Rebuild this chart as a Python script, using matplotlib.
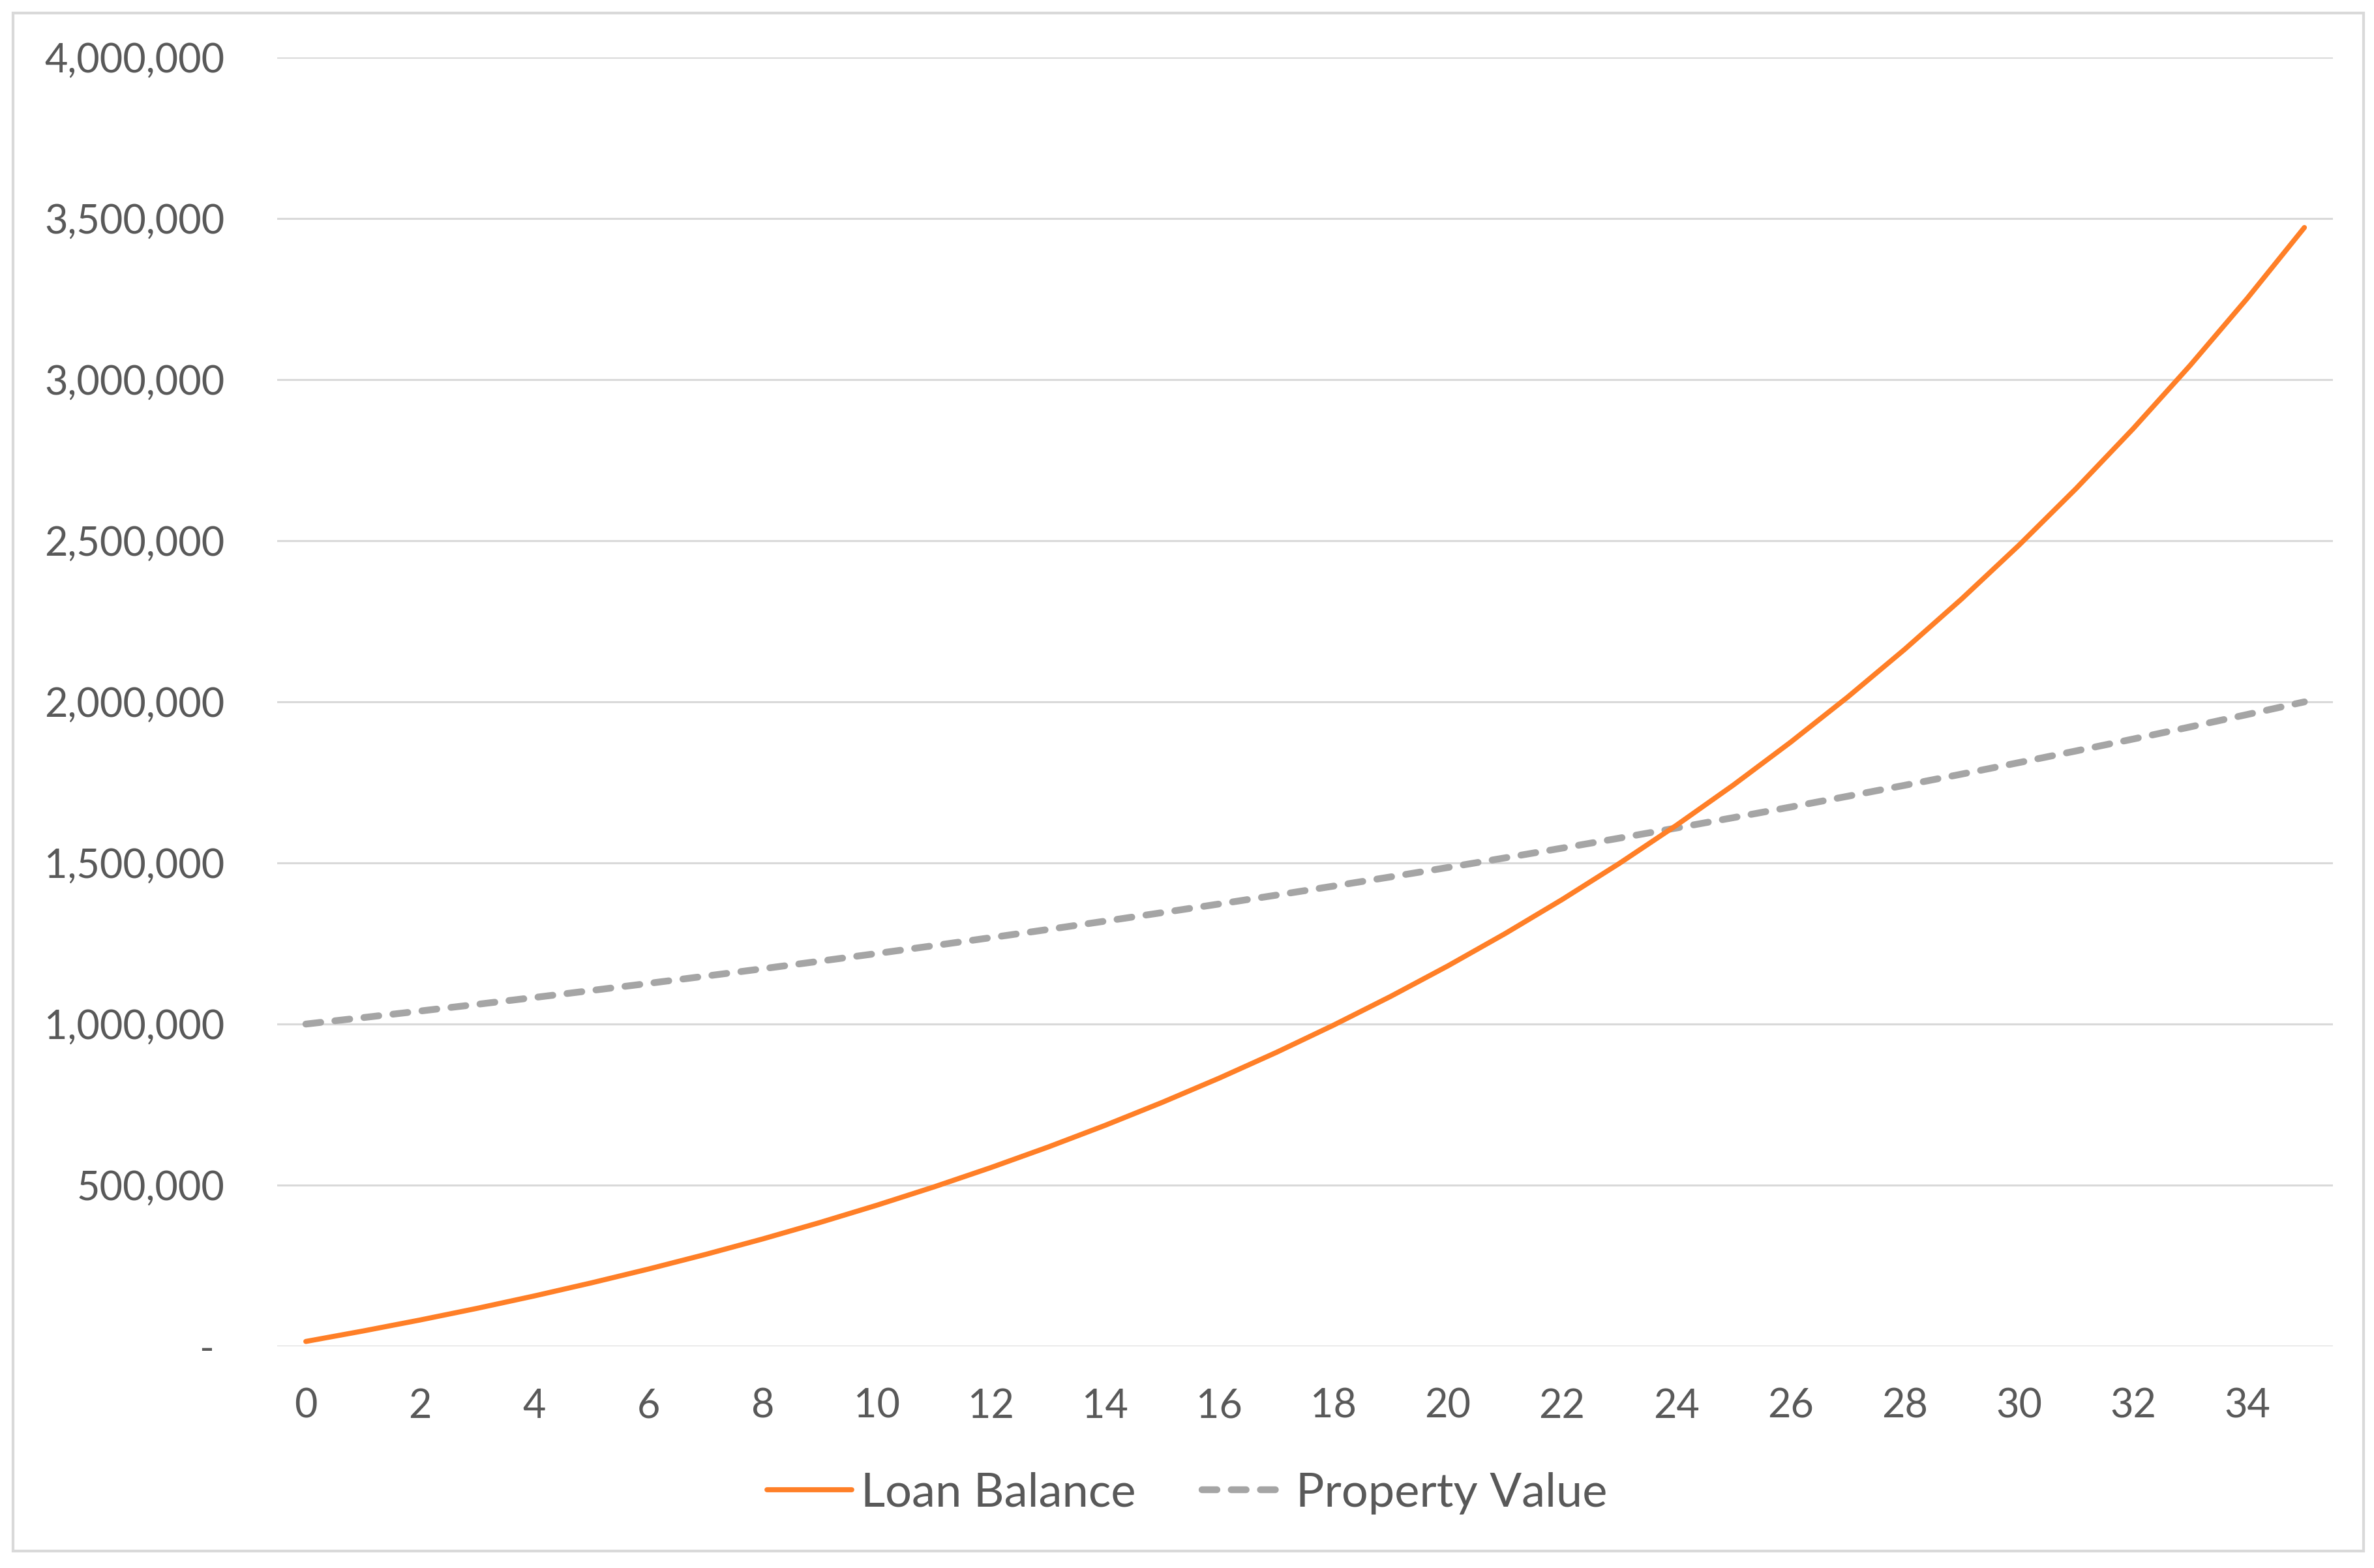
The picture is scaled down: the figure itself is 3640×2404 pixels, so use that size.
import matplotlib
matplotlib.use("Agg")
import matplotlib.pyplot as plt
from matplotlib.patches import Rectangle
from matplotlib.ticker import FuncFormatter, MultipleLocator

years = list(range(0, 36))
loan_balance = [
    15000, 47400, 81600, 117800, 156200, 196800, 239700, 285100, 333100, 384000,
    437800, 494600, 554800, 618400, 685800, 757100, 832500, 912300, 996800, 1086000,
    1180500, 1280500, 1386300, 1498200, 1616600, 1741800, 1874400, 2014500, 2162900, 2319700,
    2485800, 2661500, 2847400, 3044200, 3252200, 3472000,
]
property_value = [
    1000000, 1020000, 1040400, 1061200, 1082400, 1104100, 1126200, 1148700, 1171700, 1195100,
    1219000, 1243400, 1268200, 1293600, 1319500, 1345900, 1372800, 1400200, 1428200, 1456800,
    1485900, 1515700, 1546000, 1576900, 1608400, 1640600, 1673400, 1706900, 1741000, 1775800,
    1811400, 1847600, 1884500, 1922200, 1960700, 1999900,
]
series_names = ["Loan Balance", "Property Value"]

plt.rcParams['font.family'] = ['Lato', 'DejaVu Sans']
TXT = '#595959'
GRID = '#d9d9d9'

fig = plt.figure(figsize=(36.4, 24.04), dpi=100)
ax = fig.add_axes([0.1168, 0.1414, 0.9827 - 0.1168, 0.9634 - 0.1414])

ax.plot(years, loan_balance, color='#FF7F27', lw=5.6, solid_capstyle='round',
        label=series_names[0], zorder=3)
ax.plot(years, property_value, color='#A5A5A5', lw=7.5, dash_capstyle='round',
        dashes=(2.2, 2.1), label=series_names[1], zorder=2)

ax.set_xlim(-0.5, 35.5)
ax.set_ylim(0, 4000000)
ax.xaxis.set_major_locator(MultipleLocator(2))
ax.yaxis.set_major_locator(MultipleLocator(500000))
ax.yaxis.set_major_formatter(FuncFormatter(lambda v, p: '- ' if abs(v) < 1 else f'{v:,.0f}'))

for s in ax.spines.values():
    s.set_visible(False)
ax.grid(axis='y', color=GRID, lw=2.2, zorder=0)
ax.set_axisbelow(True)
ax.tick_params(axis='both', length=0, labelsize=44, labelcolor=TXT)
ax.tick_params(axis='y', pad=58)
ax.tick_params(axis='x', pad=46)

leg = fig.legend(loc='center', bbox_to_anchor=(0.5, 1 - 2289 / 2404), ncol=2,
                 frameon=False, fontsize=52, handlelength=1.8, handletextpad=0.2,
                 columnspacing=1.4, labelcolor=TXT)

fig.patches.append(Rectangle((20 / 3640, 1 - 2378 / 2404), (3624 - 20) / 3640,
                             (2378 - 20) / 2404, transform=fig.transFigure,
                             fill=False, edgecolor=GRID, lw=3))

fig.savefig('out.png', dpi=100, facecolor='white')
